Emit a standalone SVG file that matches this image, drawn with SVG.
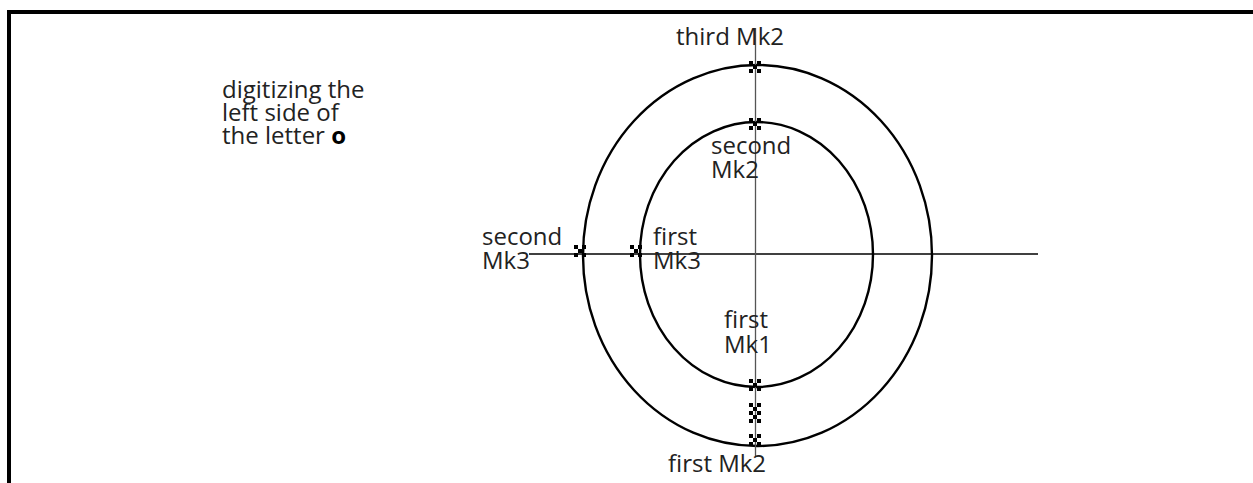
<svg xmlns="http://www.w3.org/2000/svg" width="1253" height="483" viewBox="0 0 1253 483">
<style>
text{font-family:"Open Sans","Noto Sans",sans-serif;font-size:24px;fill:#222}
.b{font-weight:bold;fill:#000}
.ell{fill:none;stroke:#000;stroke-width:2.4}
.ax{stroke:#000;stroke-width:1.3}
.vx{stroke:#555;stroke-width:1.3}
.m{fill:#000}
</style>
<defs>
<g id="mk"><rect x="-6" y="-6" width="4" height="4"/><rect x="2" y="-6" width="4" height="4"/><rect x="-2" y="-2" width="4" height="4"/><rect x="-6" y="2" width="4" height="4"/><rect x="2" y="2" width="4" height="4"/></g>
</defs>
<g id="frame"><path d="M9 483 V12 H1253" fill="none" stroke="#000" stroke-width="4"/></g>
<g id="connectors">
<ellipse class="ell" cx="757.5" cy="255.5" rx="174.5" ry="190.5"/>
<ellipse class="ell" cx="756.5" cy="254.5" rx="116.5" ry="132.5"/>
<line class="ax" x1="529" y1="254" x2="1038" y2="254"/>
<line class="vx" x1="755.5" y1="28" x2="755.5" y2="456"/>
</g>
<g id="markers" class="m">
<use href="#mk" x="755" y="67"/>
<use href="#mk" x="755" y="124"/>
<use href="#mk" x="580" y="251"/>
<use href="#mk" x="636" y="251"/>
<use href="#mk" x="755" y="385"/>
<use href="#mk" x="755" y="409"/>
<use href="#mk" x="755" y="417"/>
<use href="#mk" x="755" y="440"/>
</g>
<g id="caption">
<text x="222" y="98">digitizing the</text>
<text x="222" y="121">left side of</text>
<text x="222" y="144">the letter <tspan class="b">o</tspan></text>
</g>
<g id="lbl-third-mk2"><text x="676" y="45">third Mk2</text></g>
<g id="lbl-second-mk2"><text x="711" y="154">second</text><text x="711" y="178">Mk2</text></g>
<g id="lbl-second-mk3"><text x="482" y="245">second</text><text x="482" y="269">Mk3</text></g>
<g id="lbl-first-mk3"><text x="653" y="245">first</text><text x="653" y="269">Mk3</text></g>
<g id="lbl-first-mk1"><text x="724" y="328">first</text><text x="724" y="353">Mk1</text></g>
<g id="lbl-first-mk2"><text x="668" y="472">first Mk2</text></g>
</svg>
